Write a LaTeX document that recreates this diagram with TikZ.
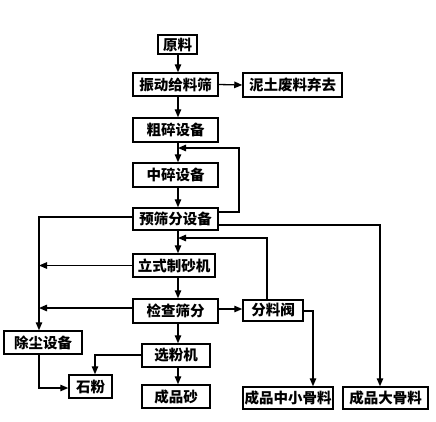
\documentclass[tikz,border=0pt]{standalone}
\usepackage{fontspec}
\newfontfamily\cjk{Noto Sans CJK SC}
\usetikzlibrary{arrows.meta}
\begin{document}
\begin{tikzpicture}[x=1pt,y=-1pt,
  box/.style={draw,line width=1.5pt,inner sep=0pt,font=\cjk\bfseries\fontsize{14.5}{14.5}\selectfont,text=black},
  conn/.style={line width=1.3pt,-{Triangle[length=8pt,width=6.5pt]}},
  plain/.style={line width=1.3pt}]
\useasboundingbox (0,0) rectangle (436,421);
\node[box,minimum width=39pt,minimum height=19pt] (raw) at (177.5,44.5) {原料};
\node[box,minimum width=85pt,minimum height=23pt] (feed) at (175.5,84.5) {振动给料筛};
\node[box,minimum width=99pt,minimum height=24pt] (waste) at (292.5,85) {泥土废料弃去};
\node[box,minimum width=85pt,minimum height=24pt] (coarse) at (175.5,130) {粗碎设备};
\node[box,minimum width=85pt,minimum height=24pt] (medium) at (175.5,175) {中碎设备};
\node[box,minimum width=85pt,minimum height=22pt] (pre) at (175.5,219) {预筛分设备};
\node[box,minimum width=82pt,minimum height=23pt] (vsi) at (174,265.5) {立式制砂机};
\node[box,minimum width=85pt,minimum height=24pt] (check) at (175.5,311) {检查筛分};
\node[box,minimum width=60pt,minimum height=21pt] (valve) at (273,310.5) {分料阀};
\node[box,minimum width=78pt,minimum height=23pt] (dust) at (43,342.5) {除尘设备};
\node[box,minimum width=68pt,minimum height=23pt] (sep) at (176,355.5) {选粉机};
\node[box,minimum width=43pt,minimum height=23pt] (powder) at (90.5,386.5) {石粉};
\node[box,minimum width=68pt,minimum height=23pt] (sand) at (176,396.5) {成品砂};
\node[box,minimum width=90pt,minimum height=22pt] (midagg) at (288,398) {成品中小骨料};
\node[box,minimum width=85pt,minimum height=22pt] (bigagg) at (385.5,398) {成品大骨料};

\coordinate (mx) at (178,0);
\draw[conn] (mx |- raw.south) -- (mx |- feed.north);
\draw[conn] (feed.east) -- (waste.west);
\draw[conn] (mx |- feed.south) -- (mx |- coarse.north);
\draw[conn] (mx |- coarse.south) -- (mx |- medium.north);
\draw[conn] (mx |- medium.south) -- (mx |- pre.north);
\draw[conn] (mx |- pre.south) -- (mx |- vsi.north);
\draw[conn] (mx |- vsi.south) -- (mx |- check.north);
\draw[conn] (mx |- check.south) -- (mx |- sep.north);
\draw[conn] (mx |- sep.south) -- (mx |- sand.north);
% loop back from pre-screening
\coordinate (l1) at (239,148);
\draw[conn] (pre.east |- 0,212) -| (l1) -- (mx |- l1);
% from valve back
\coordinate (l2) at (267,238);
\draw[conn] (valve.north -| l2) -- (l2) -- (mx |- l2);
% left bus
\coordinate (lb) at (39,217);
\draw[conn] (pre.west |- lb) -- (lb) -- (lb |- dust.north);
\draw[conn] (vsi.west) -- (lb |- vsi.west);
\draw[conn] (check.west |- 0,308) -- (39,308);
% right to big aggregate
\coordinate (rb) at (380,225);
\draw[conn] (pre.east |- rb) -- (rb) -- (rb |- bigagg.north);
\draw[conn] (check.east |- 0,309) -- (valve.west |- 0,309);
\coordinate (rv) at (313,311);
\draw[conn] (valve.east |- rv) -- (rv) -- (rv |- midagg.north);
% separator to powder
\coordinate (sp) at (95,355);
\draw[conn] (sep.west |- sp) -- (sp) -- (sp |- powder.north);
\coordinate (dp) at (39,388);
\draw[conn] (lb |- dust.south) -- (dp) -- (powder.west |- dp);
\end{tikzpicture}
\end{document}
